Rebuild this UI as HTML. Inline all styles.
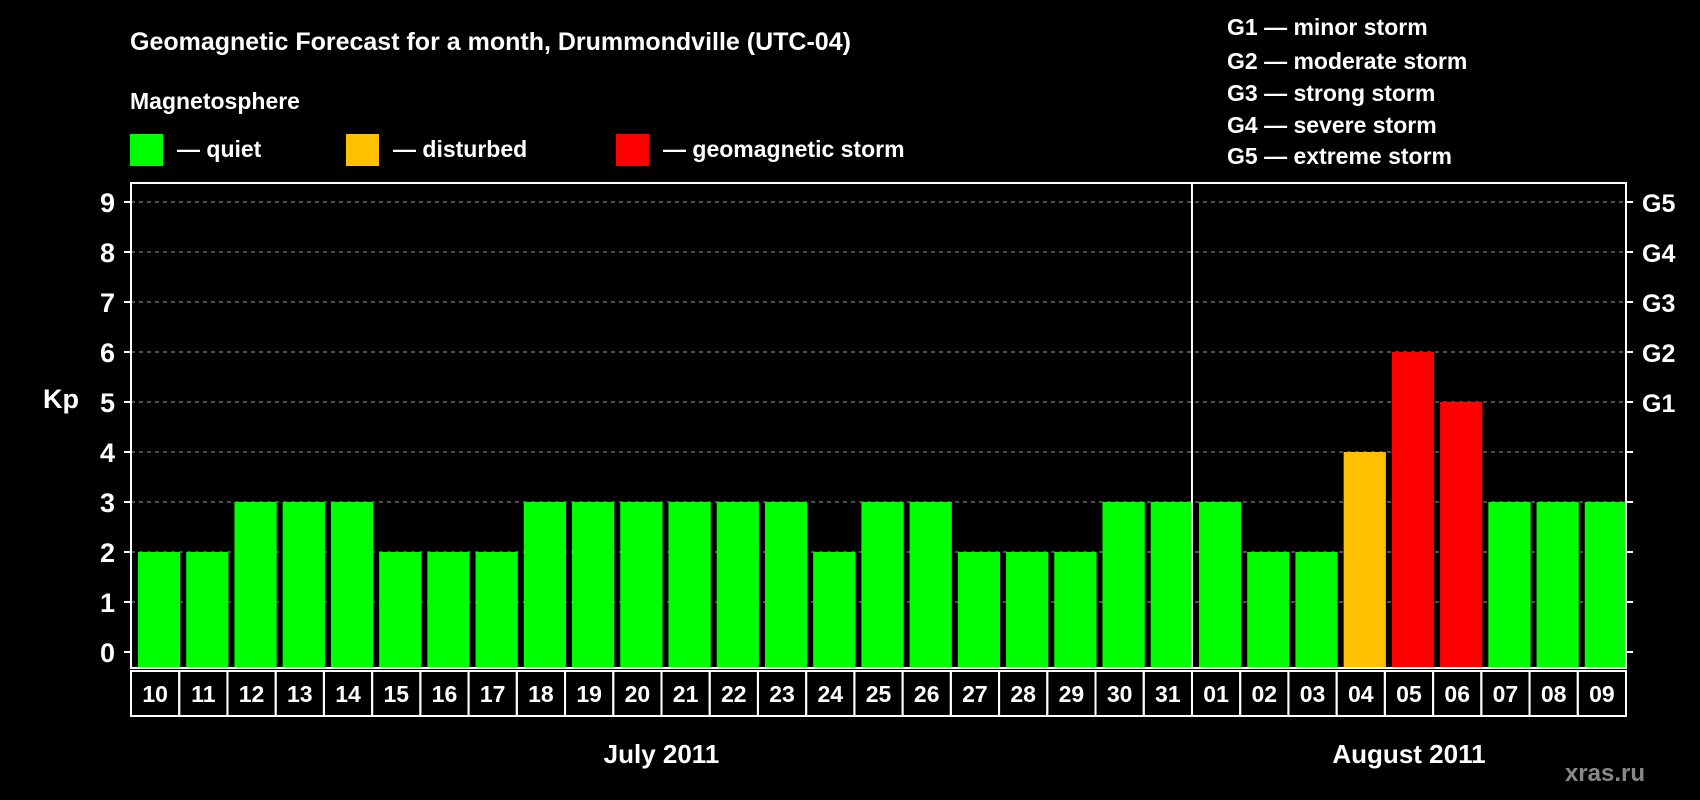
<!DOCTYPE html>
<html><head><meta charset="utf-8"><style>
body{margin:0;background:#000;}
svg{display:block;font-family:"Liberation Sans",Arial,sans-serif;font-weight:bold;}
</style></head><body>
<svg id="c" width="1700" height="800" viewBox="0 0 1700 800">
<rect width="1700" height="800" fill="#000"/>
<text x="130" y="50" fill="#fff" font-size="25">Geomagnetic Forecast for a month, Drummondville (UTC-04)</text>
<text x="130" y="109" fill="#fff" font-size="23">Magnetosphere</text>
<g><rect x="130" y="134" width="33" height="32" fill="#00ff00"/><text x="177" y="157" fill="#fff" font-size="23">— quiet</text></g>
<g><rect x="346" y="134" width="33" height="32" fill="#ffc000"/><text x="393" y="157" fill="#fff" font-size="23">— disturbed</text></g>
<g><rect x="616" y="134" width="33" height="32" fill="#ff0000"/><text x="663" y="157" fill="#fff" font-size="23">— geomagnetic storm</text></g>
<g fill="#fff" font-size="23">
<text x="1227" y="35">G1 — minor storm</text>
<text x="1227" y="69">G2 — moderate storm</text>
<text x="1227" y="101">G3 — strong storm</text>
<text x="1227" y="133">G4 — severe storm</text>
<text x="1227" y="164">G5 — extreme storm</text>
</g>
<text x="43" y="408" fill="#fff" font-size="27">Kp</text>
<text x="1645" y="781" fill="#888" font-size="24" text-anchor="end">xras.ru</text>
<g id="grid"></g><g id="bars"></g><g id="axes"></g>
</svg>
<script>
const days=["10","11","12","13","14","15","16","17","18","19","20","21","22","23","24","25","26","27","28","29","30","31","01","02","03","04","05","06","07","08","09"];
const kp=[2,2,3,3,3,2,2,2,3,3,3,3,3,3,2,3,3,2,2,2,3,3,3,2,2,4,6,5,3,3,3];
const yTicks=[0,1,2,3,4,5,6,7,8,9];
const gLabels=["G1","G2","G3","G4","G5"];
const gLevels=[5,6,7,8,9];
const months=["July 2011","August 2011"];
const monthStart=[0,22];
const monthLen=[22,9];
const L=131,R=1626,T=183,B=668,n=days.length,step=(R-L)/n;
const x=i=>L+i*step;
const y=v=>652-50*v;
const NS="http://www.w3.org/2000/svg";
function mk(tag,attrs,parent,txt){const e=document.createElementNS(NS,tag);for(const k in attrs)e.setAttribute(k,attrs[k]);if(txt!==undefined)e.textContent=txt;document.getElementById(parent).appendChild(e);return e;}
yTicks.forEach(v=>{
  if(v>0){const g=mk('line',{x1:L,x2:R,y1:y(v),y2:y(v),stroke:'#999','stroke-dasharray':'4,4','stroke-width':1},'grid');
  
  }
  const t=mk('line',{x1:L-7,x2:L,y1:y(v),y2:y(v),stroke:'#fff','stroke-width':2},'axes');
  
  
  const t2=mk('line',{x1:R,x2:R+7,y1:y(v),y2:y(v),stroke:'#fff','stroke-width':2},'axes');
  
  
  const l=mk('text',{x:115,y:y(v)+10,fill:'#fff','font-size':27,'text-anchor':'end'},'axes',String(v));
  
  
});
gLabels.forEach((g,i)=>{
  const l=mk('text',{x:1642,y:y(gLevels[i])+10,fill:'#fff','font-size':25},'axes',g);
  
  
});
kp.forEach((v,i)=>{
  const c=v>=5?'#ff0000':(v>=4?'#ffc000':'#00ff00');
  const b=mk('rect',{x:x(i)+7,y:y(v),width:step-6,height:B-y(v),fill:c},'bars');
  
  
  const cell=mk('rect',{x:x(i),y:671,width:step,height:45,fill:'none',stroke:'#fff','stroke-width':2},'axes');
  
  
  const dl=mk('text',{x:x(i)+step/2,y:702,fill:'#fff','font-size':23,'text-anchor':'middle'},'axes',days[i]);
  
  
});
months.forEach((m,i)=>{
  const t=mk('text',{x:x(monthStart[i]+monthLen[i]/2),y:763,fill:'#fff','font-size':26,'text-anchor':'middle'},'axes',m);
  
  
});
const fr=mk('rect',{x:L,y:T,width:R-L,height:B-T,fill:'none',stroke:'#fff','stroke-width':2},'axes');


const dv=mk('line',{x1:x(22),x2:x(22),y1:T,y2:B,stroke:'#fff','stroke-width':2},'axes');


</script>
</body></html>
